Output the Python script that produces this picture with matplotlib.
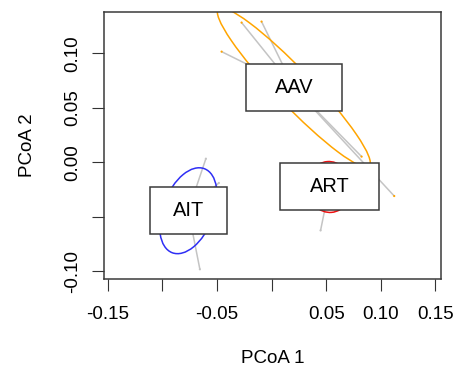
import numpy as np
import matplotlib
matplotlib.use('Agg')
import matplotlib.pyplot as plt
from matplotlib.patches import Ellipse, Rectangle

plt.rcParams['font.family'] = ['Liberation Sans', 'DejaVu Sans']

# group centroids (PCoA 1, PCoA 2)
groups = ['AAV', 'AIT', 'ART']
cent_x = [0.0204, -0.0763, 0.0530]
cent_y = [0.0686, -0.0446, -0.0228]
group_cols = ['#ffa500', '#2f2ff5', '#ee1111']

# ellipse sizes (semi-axes) and orientation per group
ell_a = [0.100, 0.0413, 0.0234]
ell_b = [0.0165, 0.0232, 0.0202]
ell_angle = [-46.3, 69.0, 95.0]

# sample scores (only the visible ones)
pt_group = ['AAV', 'AAV', 'AAV', 'AAV', 'AAV', 'AIT', 'AIT', 'AIT', 'ART']
pt_x = [-0.0458, -0.0275, -0.0092, 0.0825, 0.1124, -0.0602, -0.0657, -0.0483, 0.0449]
pt_y = [0.1015, 0.1282, 0.1291, 0.0051, -0.0311, 0.0032, -0.0984, -0.0191, -0.0627]

xticks = [-0.15, -0.10, -0.05, 0.00, 0.05, 0.10, 0.15]
xlabels = ['-0.15', '', '-0.05', '', '0.05', '0.10', '0.15']
yticks = [-0.10, -0.05, 0.00, 0.05, 0.10]
ylabels = ['-0.10', '', '0.00', '0.05', '0.10']

fig = plt.figure(figsize=(4.61, 3.66), dpi=100)
ax = fig.add_axes([104.3 / 461, 1 - 279 / 366, (440.7 - 104.3) / 461, (279 - 12) / 366])
ax.set_xlim(-0.1533, 0.1550)
ax.set_ylim(-0.1073, 0.1379)

# spider lines
for g, x, y in zip(pt_group, pt_x, pt_y):
    i = groups.index(g)
    ax.plot([cent_x[i], x], [cent_y[i], y], color='#c4c4c4', lw=1.1, zorder=2,
            solid_capstyle='butt')

# points
pt_cols = ['#ffa500' if g == 'AAV' else '#c4c4c4' for g in pt_group]
ax.scatter(pt_x, pt_y, s=2.5, c=pt_cols, zorder=3, linewidths=0)

# ellipses
for i in range(len(groups)):
    e = Ellipse((cent_x[i], cent_y[i]), 2 * ell_a[i], 2 * ell_b[i], angle=ell_angle[i],
                fill=False, edgecolor=group_cols[i], lw=1.1, zorder=2)
    ax.add_patch(e)

# labels with boxes
fig.canvas.draw()
renderer = fig.canvas.get_renderer()
inv = ax.transData.inverted()
for i, name in enumerate(groups):
    t = ax.text(cent_x[i], cent_y[i], name, ha='center', va='center',
                fontsize=14.4, color='black', zorder=6)
    tw = t.get_window_extent(renderer).width
    x0, y0 = ax.transData.transform((cent_x[i], cent_y[i]))
    hw, hh = 1.24 * tw, 23.5
    xa, ya = inv.transform((x0 - hw, y0 - hh))
    xb, yb = inv.transform((x0 + hw, y0 + hh))
    ax.add_patch(Rectangle((xa, ya), xb - xa, yb - ya, facecolor='white',
                           edgecolor='#3a3a3a', lw=1.1, zorder=5))

ax.set_xticks(xticks)
ax.set_xticklabels(xlabels)
ax.set_yticks(yticks)
ax.set_yticklabels(ylabels, rotation=90, va='center')
ax.tick_params(length=8.6, width=0.8, color='#333333', labelsize=13.5)
ax.tick_params(axis='x', pad=11)
ax.tick_params(axis='y', pad=8)

for s in ax.spines.values():
    s.set_color('#3a3a3a')
    s.set_linewidth(1.1)

ax.set_xlabel('PCoA 1', fontsize=13.5)
ax.set_ylabel('PCoA 2', fontsize=13.5)
ax.xaxis.set_label_coords(0.5, -0.266)
ax.yaxis.set_label_coords(-0.203, 0.5)

fig.savefig('out.png', dpi=100)
